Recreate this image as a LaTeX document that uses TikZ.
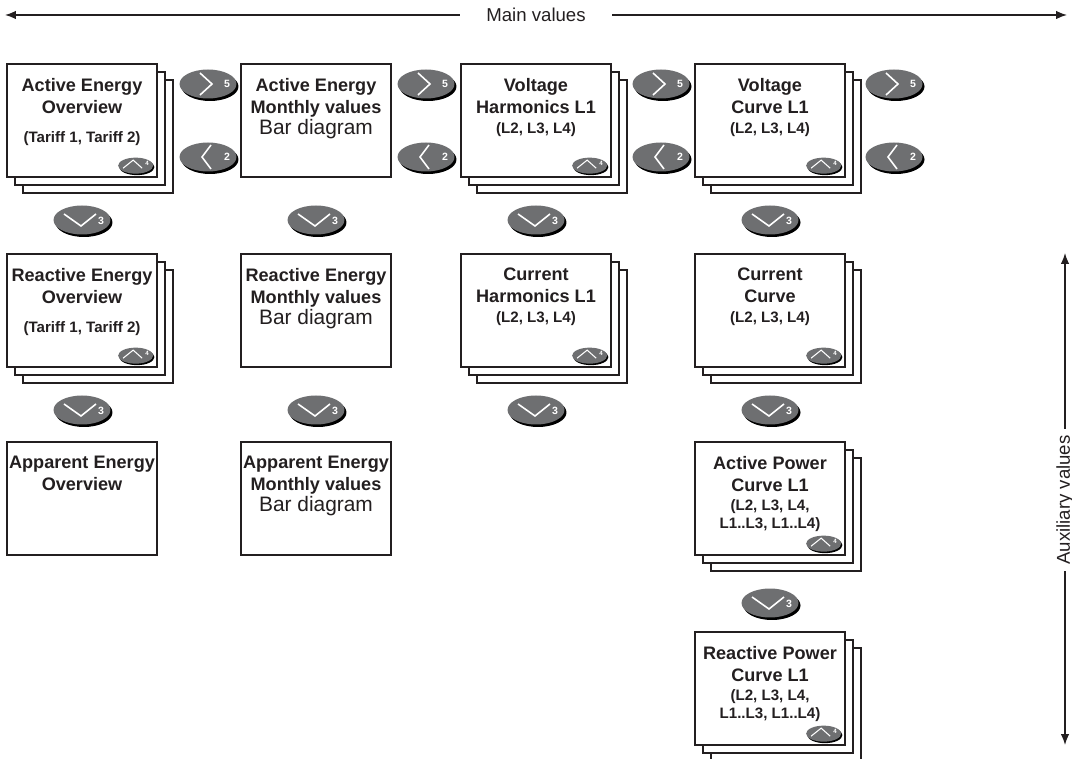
\documentclass[tikz,border=0pt]{standalone}
\usepackage{fontspec}
\setmainfont{Liberation Sans}
\usetikzlibrary{shapes.geometric,shadows,arrows.meta}
\definecolor{btngray}{RGB}{110,111,113}
\definecolor{inkgray}{RGB}{35,31,32}
\newcommand\subtxt{\fontsize{8.6}{12.5}\selectfont}
\newcommand\plaintxt{\fontsize{11.9}{12.5}\selectfont\mdseries}

\begin{document}
\begin{tikzpicture}[x=0.02cm,y=-0.02cm,
  panel/.style={draw=inkgray,fill=white,line width=0.75pt,minimum width=3cm,minimum height=2.26cm,inner sep=0pt},
  stacked/.style={panel,
    general shadow={fill=white,draw=inkgray,line width=0.75pt,shadow xshift=0.32cm,shadow yshift=-0.32cm},
    general shadow={fill=white,draw=inkgray,line width=0.75pt,shadow xshift=0.16cm,shadow yshift=-0.16cm}},
  ttl/.style={font=\fontsize{10.3}{12.5}\selectfont\bfseries,text=inkgray,align=center,anchor=north,inner sep=0pt},
  btnbase/.style={ellipse,fill=btngray,inner sep=0pt},
  navbtn/.style={btnbase,minimum width=1.14cm,minimum height=0.58cm,
    drop shadow={shadow xshift=0.04cm,shadow yshift=-0.05cm,fill=black,opacity=1}},
  minibtn/.style={btnbase,minimum width=0.7cm,minimum height=0.32cm,
    drop shadow={shadow xshift=0.025cm,shadow yshift=-0.03cm,fill=black,opacity=1}},
  chev/.style={draw=white,line width=0.9pt},
  btnnum/.style={text=white,font=\fontsize{6}{7}\selectfont\bfseries,inner sep=0pt},
  axlbl/.style={font=\fontsize{10.6}{12}\selectfont,text=inkgray,inner ysep=0pt},
  axis/.style={draw=inkgray,line width=0.75pt,-{Latex[length=0.22cm,width=0.17cm]}}]
  \useasboundingbox (0,0) rectangle (1072,759);

  % main values / auxiliary values
  \coordinate (mainL) at (5,15);
  \coordinate (mainR) at (1067,15);
  \node[axlbl,inner xsep=0.52cm] (mainlbl) at (536,15) {Main values};
  \draw[axis] (mainlbl) -- (mainL);
  \draw[axis] (mainlbl) -- (mainR);
  \coordinate (auxT) at (1065,253);
  \coordinate (auxB) at (1065,745);
  \node[axlbl,inner xsep=0.12cm,rotate=90] (auxlbl) at (1065,500) {Auxiliary values};
  \draw[axis] (auxlbl) -- (auxT);
  \draw[axis] (auxlbl) -- (auxB);

  % energy columns
  \node[stacked] (aeo) at (82,120.5) {};
  \node[ttl] (aeo-t) at ([yshift=-0.29cm]aeo.north) {Active Energy\\Overview\\[3.9pt]\subtxt (Tariff 1, Tariff 2)};
  \node[stacked] (reo) at (82,310.5) {};
  \node[ttl] (reo-t) at ([yshift=-0.29cm]reo.north) {Reactive Energy\\Overview\\[3.9pt]\subtxt (Tariff 1, Tariff 2)};
  \node[panel] (apo) at (82,498.5) {};
  \node[ttl] (apo-t) at ([yshift=-0.29cm]apo.north) {Apparent Energy\\Overview};

  \node[panel] (aem) at (316,120.5) {};
  \node[ttl] (aem-t) at ([yshift=-0.29cm]aem.north) {Active Energy\\Monthly values\\[-0.6pt]\plaintxt Bar diagram};
  \node[panel] (rem) at (316,310.5) {};
  \node[ttl] (rem-t) at ([yshift=-0.29cm]rem.north) {Reactive Energy\\Monthly values\\[-0.6pt]\plaintxt Bar diagram};
  \node[panel] (apm) at (316,498.5) {};
  \node[ttl] (apm-t) at ([yshift=-0.29cm]apm.north) {Apparent Energy\\Monthly values\\[-0.6pt]\plaintxt Bar diagram};

  % harmonics and curves
  \node[stacked] (vh1) at (536,120.5) {};
  \node[ttl] (vh1-t) at ([yshift=-0.29cm]vh1.north) {Voltage\\Harmonics L1\\[-1.2pt]\subtxt (L2, L3, L4)};
  \node[stacked] (ch1) at (536,310.5) {};
  \node[ttl] (ch1-t) at ([yshift=-0.29cm]ch1.north) {Current\\Harmonics L1\\[-1.2pt]\subtxt (L2, L3, L4)};

  \node[stacked] (vc1) at (770,120.5) {};
  \node[ttl] (vc1-t) at ([yshift=-0.29cm]vc1.north) {Voltage\\Curve L1\\[-1.2pt]\subtxt (L2, L3, L4)};
  \node[stacked] (cc1) at (770,310.5) {};
  \node[ttl] (cc1-t) at ([yshift=-0.29cm]cc1.north) {Current\\Curve\\[-1.2pt]\subtxt (L2, L3, L4)};
  \node[stacked] (apc) at (770,498.5) {};
  \node[ttl] (apc-t) at ([yshift=-0.29cm]apc.north) {Active Power\\Curve L1\\[-1.7pt]\subtxt (L2, L3, L4,\\[-2.3pt]\subtxt L1..L3, L1..L4)};
  \node[stacked] (rpc) at (770,688.5) {};
  \node[ttl] (rpc-t) at ([yshift=-0.29cm]rpc.north) {Reactive Power\\Curve L1\\[-1.7pt]\subtxt (L2, L3, L4,\\[-2.3pt]\subtxt L1..L3, L1..L4)};

  % buttons
  \foreach \b/\bx in {fwdA/208,fwdB/426,fwdC/661,fwdD/894} {
    \node[navbtn] (\b) at (\bx,84) {};
    \draw[chev,shift={(\b.center)}] (-8,-11) -- (4,0) -- (-8,11);
    \node[btnnum] (\b-n) at ([xshift=0.38cm]\b.center) {5};
  }
  \foreach \b/\bx in {backA/208,backB/426,backC/661,backD/894} {
    \node[navbtn] (\b) at (\bx,157) {};
    \draw[chev,shift={(\b.center)}] (3,-12) -- (-6,0) -- (3,12);
    \node[btnnum] (\b-n) at ([xshift=0.38cm]\b.center) {2};
  }
  \foreach \b/\bx/\by in {dnA1/82/220,dnB1/316/220,dnC1/536/220,dnD1/770/220,
      dnA2/82/410,dnB2/316/410,dnC2/536/410,dnD2/770/410,dnD3/770/603} {
    \node[navbtn] (\b) at (\bx,\by) {};
    \draw[chev,shift={(\b.center)}] (-18,-6) -- (-1,6) -- (14,-6);
    \node[btnnum] (\b-n) at ([xshift=0.38cm,yshift=-0.02cm]\b.center) {3};
  }
  \foreach \p in {aeo,reo,vh1,ch1,vc1,cc1,apc,rpc} {
    \node[minibtn] (\p-up) at ([xshift=-0.44cm,yshift=0.24cm]\p.south east) {};
    \draw[chev,line width=0.6pt,shift={(\p-up.center)}] (-12.5,2.5) -- (-2.5,-5.5) -- (6.5,2.5);
    \node[btnnum,font=\fontsize{3.5}{4}\selectfont\bfseries] (\p-n) at ([xshift=0.23cm,yshift=0.05cm]\p-up.center) {4};
  }
\end{tikzpicture}
\end{document}
